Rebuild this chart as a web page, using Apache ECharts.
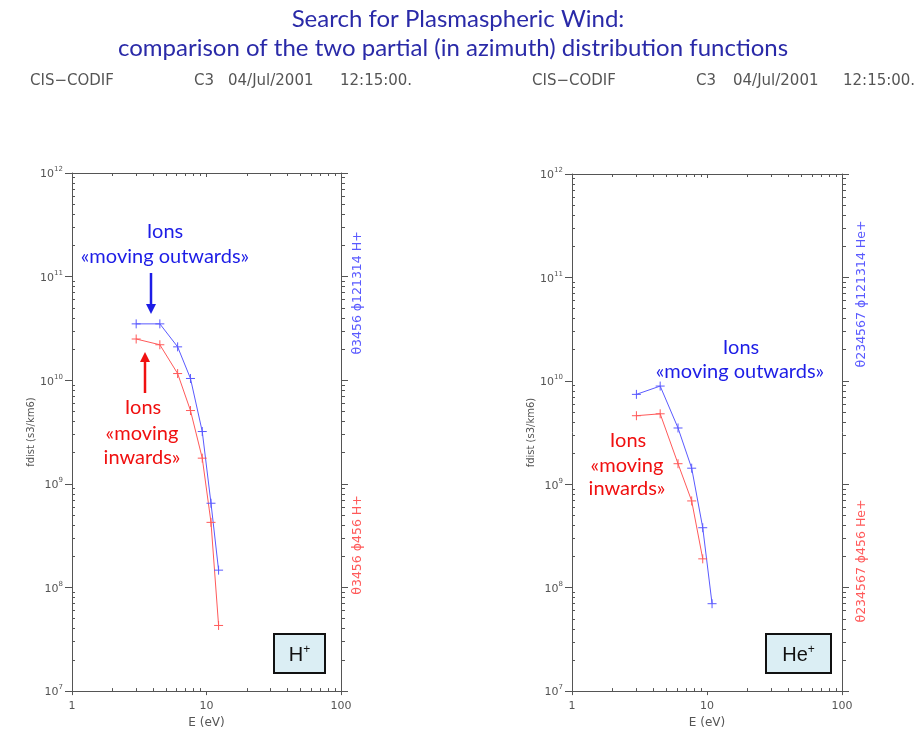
<!DOCTYPE html>
<html><head><meta charset="utf-8">
<script src="https://cdn.jsdelivr.net/npm/echarts@6/dist/echarts.min.js"></script>
<style>html,body{margin:0;padding:0;background:#fff}#c{width:921px;height:734px}</style>
</head><body><div id="c"></div>
<script>
// ---- data ----
const energyH    = [3.0, 4.5, 6.1, 7.6, 9.3, 10.8, 12.3];
const hOutward   = [3.5e10, 3.5e10, 2.1e10, 1.04e10, 3.2e9, 6.5e8, 1.47e8];
const hInward    = [2.5e10, 2.2e10, 1.16e10, 5.1e9, 1.77e9, 4.25e8, 4.3e7];
const energyHe   = [3.0, 4.5, 6.1, 7.7, 9.3, 10.9];
const heOutward  = [7.4e9, 8.9e9, 3.5e9, 1.43e9, 3.8e8, 7.0e7];
const heInward   = [4.6e9, 4.8e9, 1.58e9, 6.9e8, 1.9e8];
const xMajorTicks = [1, 10, 100];
const yMajorTicks = [1e7, 1e8, 1e9, 1e10, 1e11, 1e12];

function minorTicks(lo, hi) {
  const out = [];
  for (let e = lo; e < hi; e++) for (let m = 2; m <= 9; m++) out.push(m * Math.pow(10, e));
  return out;
}
const xMinor = minorTicks(0, 2);
const yMinor = minorTicks(7, 12);

const AX = '#555';
const LBL = '#555';
const PLOTFONT = 'DejaVu Sans';
const BLUE = '#5a5aff';
const RED = '#ff5a5a';
const ABLUE = '#1d1de6';
const ARED = '#f01010';

function xAxes(g) {
  const base = { type: 'log', logBase: 10, min: 1, max: 100, gridIndex: g,
    splitLine: { show: false }, axisLine: { onZero: false, lineStyle: { color: AX, width: 1 } } };
  return [
    Object.assign({}, base, { position: 'bottom', name: 'E (eV)', nameLocation: 'middle', nameGap: 25,
      nameTextStyle: { color: LBL, fontSize: 12, fontFamily: PLOTFONT },
      axisTick: { customValues: xMajorTicks, inside: false, length: 4, lineStyle: { color: AX } },
      axisLabel: { customValues: xMajorTicks, color: LBL, fontSize: 11, fontFamily: PLOTFONT, margin: 10 } }),
    Object.assign({}, base, { position: 'bottom', axisLine: { show: false },
      axisTick: { customValues: xMinor, inside: true, length: 3, lineStyle: { color: AX } }, axisLabel: { show: false } }),
    Object.assign({}, base, { position: 'top',
      axisTick: { customValues: xMajorTicks, inside: true, length: 4, lineStyle: { color: AX } }, axisLabel: { show: false } }),
    Object.assign({}, base, { position: 'top', axisLine: { show: false },
      axisTick: { customValues: xMinor, inside: true, length: 3, lineStyle: { color: AX } }, axisLabel: { show: false } })
  ];
}
function yAxes(g) {
  const base = { type: 'log', logBase: 10, min: 1e7, max: 1e12, gridIndex: g,
    splitLine: { show: false }, axisLine: { onZero: false, lineStyle: { color: AX, width: 1 } } };
  return [
    Object.assign({}, base, { position: 'left', name: 'fdist (s3/km6)', nameLocation: 'middle', nameGap: 31, nameRotate: 90,
      nameTextStyle: { color: LBL, fontSize: 10, fontFamily: PLOTFONT },
      axisTick: { customValues: yMajorTicks, inside: false, length: 7, lineStyle: { color: AX } },
      axisLabel: { customValues: yMajorTicks, margin: 9, color: LBL, fontFamily: PLOTFONT,
        formatter: v => '{b|10}{s|' + Math.round(Math.log10(v)) + '}',
        rich: { b: { fontSize: 11, color: LBL, fontFamily: PLOTFONT, lineHeight: 14, verticalAlign: 'bottom' },
                s: { fontSize: 7, color: LBL, fontFamily: PLOTFONT, lineHeight: 14, verticalAlign: 'top' } } } }),
    Object.assign({}, base, { position: 'left', axisLine: { show: false },
      axisTick: { customValues: yMinor, inside: true, length: 3, lineStyle: { color: AX } }, axisLabel: { show: false } }),
    Object.assign({}, base, { position: 'right',
      axisTick: { customValues: yMajorTicks, inside: false, length: 7, lineStyle: { color: AX } }, axisLabel: { show: false } }),
    Object.assign({}, base, { position: 'right', axisLine: { show: false },
      axisTick: { customValues: yMinor, inside: false, length: 4, lineStyle: { color: AX } }, axisLabel: { show: false } })
  ];
}

function lineSeries(g, xs, ys, color) {
  return { type: 'line', xAxisIndex: 4 * g, yAxisIndex: 4 * g,
    data: ys.map((y, i) => [xs[i], y]),
    symbol: 'path://M5,0L5,10M0,5L10,5', symbolSize: 9, showSymbol: true,
    lineStyle: { color: color, width: 1 },
    itemStyle: { color: color, borderColor: color, borderWidth: 1 },
    emphasis: { disabled: true }, silent: true, animation: false, z: 3 };
}

function txt(x, y, text, font, fill, extra) {
  return Object.assign({ type: 'text', x: x, y: y, silent: true,
    style: { text: text, font: font, fill: fill, align: 'center', verticalAlign: 'middle' } }, extra || {});
}
function leftTxt(x, y, text, font, fill) {
  return { type: 'text', x: x, y: y, silent: true,
    style: { text: text, font: font, fill: fill, align: 'left', verticalAlign: 'middle' } };
}
function arrow(x, y1, y2, color) {
  const dir = y2 > y1 ? 1 : -1;
  return [
    { type: 'line', silent: true, shape: { x1: x, y1: y1, x2: x, y2: y2 - dir * 9 }, style: { stroke: color, lineWidth: 2.5 } },
    { type: 'polygon', silent: true, shape: { points: [[x - 5, y2 - dir * 10], [x + 5, y2 - dir * 10], [x, y2]] }, style: { fill: color } }
  ];
}
function ionBox(x, y, w, h, base) {
  return [
    { type: 'rect', silent: true, shape: { x: x, y: y, width: w, height: h }, style: { fill: '#dbeef4', stroke: '#111', lineWidth: 2 } },
    { type: 'text', silent: true, x: x + w / 2, y: y + h / 2 + 1,
      style: { text: '{a|' + base + '}{s|+}', align: 'center', verticalAlign: 'middle',
        rich: { a: { fontSize: 20, fontFamily: 'Liberation Sans', fill: '#111', lineHeight: 22, verticalAlign: 'bottom' },
                s: { fontSize: 12, fontFamily: 'Liberation Sans', fill: '#111', lineHeight: 22, verticalAlign: 'top' } } } }
  ];
}

const TFONT = '24px Lato';
const AFONT = '20px Lato';
const HFONT = '15px "DejaVu Sans"';
const RFONT = '12.5px "DejaVu Sans"';

const graphics = [
  txt(458, 19, 'Search for Plasmaspheric Wind:', TFONT, '#2a2aa8'),
  txt(453, 48, 'comparison of the two partial (in azimuth) distribution functions', TFONT, '#2a2aa8'),
  leftTxt(30, 81, 'CIS\u2212CODIF', HFONT, '#555'),
  leftTxt(194, 81, 'C3', HFONT, '#555'),
  leftTxt(228, 81, '04/Jul/2001', HFONT, '#555'),
  leftTxt(340, 81, '12:15:00.', HFONT, '#555'),
  leftTxt(532, 81, 'CIS\u2212CODIF', HFONT, '#555'),
  leftTxt(696, 81, 'C3', HFONT, '#555'),
  leftTxt(733, 81, '04/Jul/2001', HFONT, '#555'),
  leftTxt(843, 81, '12:15:00.', HFONT, '#555'),
  // right-axis channel labels
  txt(358, 293, '\u03b83456 \u03d5121314 H+', RFONT, BLUE, { rotation: Math.PI / 2 }),
  txt(358, 545, '\u03b83456 \u03d5456 H+', RFONT, RED, { rotation: Math.PI / 2 }),
  txt(862, 294, '\u03b8234567 \u03d5121314 He+', RFONT, BLUE, { rotation: Math.PI / 2 }),
  txt(862, 561, '\u03b8234567 \u03d5456 He+', RFONT, RED, { rotation: Math.PI / 2 }),
  // annotations, left panel
  txt(165, 232, 'Ions', AFONT, ABLUE),
  txt(165, 257, '\u00abmoving outwards\u00bb', AFONT, ABLUE),
  txt(143, 408, 'Ions', AFONT, ARED),
  txt(142, 434, '\u00abmoving', AFONT, ARED),
  txt(142, 458, 'inwards\u00bb', AFONT, ARED),
  // annotations, right panel
  txt(741, 348, 'Ions', AFONT, ABLUE),
  txt(740, 372, '\u00abmoving outwards\u00bb', AFONT, ABLUE),
  txt(628, 441, 'Ions', AFONT, ARED),
  txt(627, 466, '\u00abmoving', AFONT, ARED),
  txt(627, 489, 'inwards\u00bb', AFONT, ARED)
].concat(arrow(151, 273, 314, ABLUE), arrow(145, 393, 352, ARED),
         ionBox(274, 634, 51, 39, 'H'), ionBox(766, 634, 65, 39, 'He'));

const chart = echarts.init(document.getElementById('c'), null, { renderer: 'canvas' });
chart.setOption({
  animation: false,
  backgroundColor: '#fff',
  grid: [
    { left: 72, top: 173, width: 269, height: 524 },
    { left: 572, top: 174, width: 270, height: 523 }
  ],
  xAxis: xAxes(0).concat(xAxes(1)),
  yAxis: yAxes(0).concat(yAxes(1)),
  series: [
    lineSeries(0, energyH, hOutward, BLUE),
    lineSeries(0, energyH, hInward, RED),
    lineSeries(1, energyHe, heOutward, BLUE),
    lineSeries(1, energyHe, heInward, RED)
  ],
  graphic: graphics
});
</script>
</body></html>
